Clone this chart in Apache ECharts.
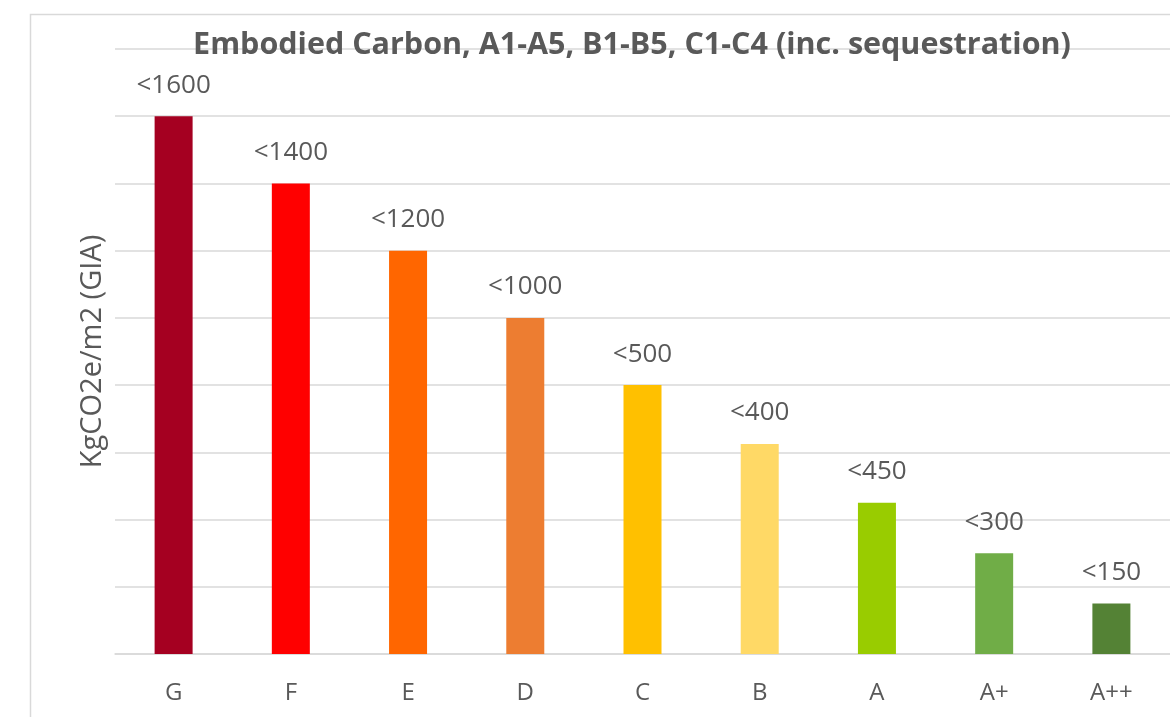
<!DOCTYPE html>
<html>
<head>
<meta charset="utf-8">
<script src="https://cdn.jsdelivr.net/npm/echarts@6/dist/echarts.min.js"></script>
<style>
html,body{margin:0;padding:0;background:#fff;}
#chart{width:1170px;height:717px;}
</style>
</head>
<body>
<div id="chart"></div>
<script>
var categories = ['G', 'F', 'E', 'D', 'C', 'B', 'A', 'A+', 'A++'];
var values = [1600, 1400, 1200, 1000, 800, 625, 450, 300, 150];
var barLabels = ['<1600', '<1400', '<1200', '<1000', '<500', '<400', '<450', '<300', '<150'];
var barColors = ['#A50021', '#FF0000', '#FF6600', '#ED7D31', '#FFC000', '#FFD966', '#99CC00', '#70AD47', '#548235'];

var FONT = '"Open Sans", "Noto Sans", sans-serif';
var chart = echarts.init(document.getElementById('chart'), null, {renderer: 'canvas'});
chart.setOption({
  backgroundColor: '#fff',
  animation: false,
  graphic: [{
    type: 'rect',
    shape: {x: 30.5, y: 14.5, width: 1300, height: 800},
    style: {fill: 'none', stroke: '#d9d9d9', lineWidth: 1.5},
    silent: true, z: -10
  }],
  title: {
    text: 'Embodied Carbon, A1-A5, B1-B5, C1-C4 (inc. sequestration)',
    left: 627, top: 25, textAlign: 'center',
    textStyle: {fontFamily: FONT, fontSize: 30.5, fontWeight: 'bold', color: '#595959'}
  },
  grid: {left: 115, right: -5, top: 49, bottom: 63, containLabel: false},
  xAxis: {
    type: 'category',
    data: categories,
    axisLine: {lineStyle: {color: '#d9d9d9', width: 1.5}},
    axisTick: {show: false},
    axisLabel: {color: '#595959', fontSize: 24, fontFamily: FONT, margin: 27}
  },
  yAxis: {
    type: 'value',
    min: 0, max: 1800, interval: 200,
    name: 'KgCO2e/m2 (GIA)',
    nameLocation: 'middle',
    nameRotate: 90,
    nameGap: 8,
    nameTextStyle: {color: '#595959', fontSize: 29, fontFamily: FONT},
    axisLine: {show: false},
    axisTick: {show: false},
    axisLabel: {show: false},
    splitLine: {lineStyle: {color: '#d9d9d9', width: 1.5}}
  },
  series: [{
    type: 'bar',
    data: values.map(function (v, i) { return {value: v, itemStyle: {color: barColors[i]}}; }),
    barWidth: 38,
    label: {
      show: true, position: 'top', distance: 18,
      color: '#595959', fontSize: 26, fontFamily: FONT,
      formatter: function (p) { return barLabels[p.dataIndex]; }
    }
  }]
});
</script>
</body>
</html>
